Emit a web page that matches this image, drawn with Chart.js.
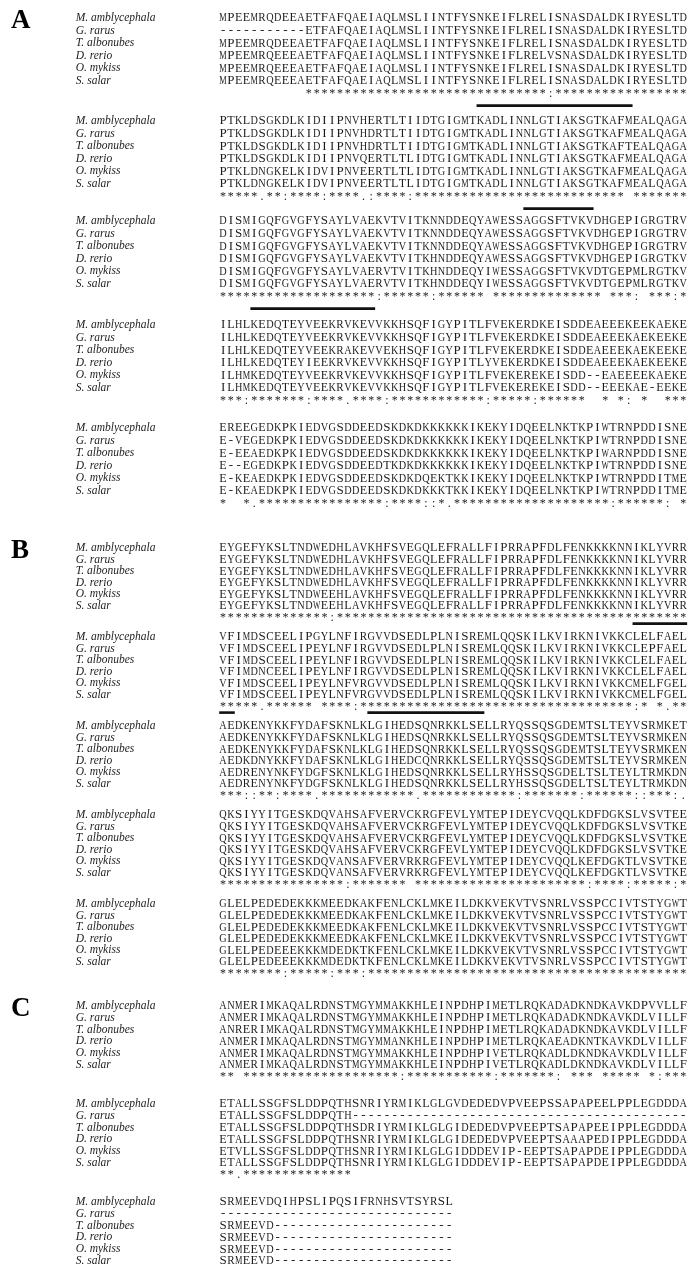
<!DOCTYPE html>
<html>
  <head>
    <meta charset="utf-8">
    <title>Alignment</title>
    <style>
      body { margin: 0; background: #fff; }
      canvas { display: block; }
    </style>
  </head>
  <body>
    <canvas id="grap" width="693" height="1272"></canvas>
    <script src="https://cdn.jsdelivr.net/npm/chart.js"></script>
    <script type="text/javascript">
      const species = ['M. amblycephala', 'G. rarus', 'T. albonubes', 'D. rerio', 'O. mykiss', 'S. salar'];

      const blocksA = [
        ['MPEEMRQDEEAETFAFQAEIAQLMSLIINTFYSNKEIFLRELISNASDALDKIRYESLTD',
         '-----------ETFAFQAEIAQLMSLIINTFYSNKEIFLRELISNASDALDKIRYESLTD',
         'MPEEMRQDEEAETFAFQAEIAQLMSLIINTFYSNKEIFLRELISNASDALDKIRYESLTD',
         'MPEEMRQEEEAETFAFQAEIAQLMSLIINTFYSNKEIFLRELVSNASDALDKIRYESLTD',
         'MPEEMRQEEEAETFAFQAEIAQLMSLIINTFYSNKEIFLRELISNASDALDKIRYESLTD',
         'MPEEMRQEEEAETFAFQAEIAQLMSLIINTFYSNKEIFLRELISNASDALDKIRYESLTD'],
        ['PTKLDSGKDLKIDIIPNVHERTLTIIDTGIGMTKADLINNLGTIAKSGTKAFMEALQAGA',
         'PTKLDSGKDLKIDIIPNVHDRTLTIIDTGIGMTKADLINNLGTIAKSGTKAFMEALQAGA',
         'PTKLDSGKDLKIDIIPNVHDRTLTIIDTGIGMTKADLINNLGTIAKSGTKAFTEALQAGA',
         'PTKLDSGKDLKIDIIPNVQERTLTLIDTGIGMTKADLINNLGTIAKSGTKAFMEALQAGA',
         'PTKLDNGKELKIDVIPNVEERTLTLIDTGIGMTKADLINNLGTIAKSGTKAFMEALQAGA',
         'PTKLDNGKELKIDVIPNVEERTLTLIDTGIGMTKADLINNLGTIAKSGTKAFMEALQAGA'],
        ['DISMIGQFGVGFYSAYLVAEKVTVITKNNDDEQYAWESSAGGSFTVKVDHGEPIGRGTRV',
         'DISMIGQFGVGFYSAYLVAEKVTVITKNNDDEQYAWESSAGGSFTVKVDHGEPIGRGTRV',
         'DISMIGQFGVGFYSAYLVAEKVTVITKNNDDEQYAWESSAGGSFTVKVDHGEPIGRGTRV',
         'DISMIGQFGVGFYSAYLVAEKVTVITKHNDDEQYAWESSAGGSFTVKVDHGEPIGRGTKV',
         'DISMIGQFGVGFYSAYLVAERVTVITKHNDDEQYIWESSAGGSFTVKVDTGEPMLRGTKV',
         'DISMIGQFGVGFYSAYLVAERVTVITKHNDDEQYIWESSAGGSFTVKVDTGEPMLRGTKV'],
        ['ILHLKEDQTEYVEEKRVKEVVKKHSQFIGYPITLFVEKERDKEISDDEAEEEKEEKAEKE',
         'ILHLKEDQTEYVEEKRVKEVVKKHSQFIGYPITLFVEKERDKEISDDEAEEEKAEKEEKE',
         'ILHLKEDQTEYVEEKRAKEVVEKHSQFIGYPITLFVEKERDKEISDDEAEEEKAEKEEKE',
         'ILHLKEDQTEYIEEKRVKEVVKKHSQFIGYPITLYVEKERDKEISDDEAEEEKAEKEEKE',
         'ILHMKEDQTEYVEEKRVKEVVKKHSQFIGYPITLFVEKEREKEISDD--EAEEEEKAEKE',
         'ILHMKEDQTEYVEEKRVKEVVKKHSQFIGYPITLFVEKEREKEISDD--EEEKAE-EEKE'],
        ['EREEGEDKPKIEDVGSDDEEDSKDKDKKKKKKIKEKYIDQEELNKTKPIWTRNPDDISNE',
         'E-VEGEDKPKIEDVGSDDEEDSKDKDKKKKKKIKEKYIDQEELNKTKPIWTRNPDDISNE',
         'E-EEAEDKPKIEDVGSDDEEDSKDKDKKKKKKIKEKYIDQEELNKTKPIWARNPDDISNE',
         'E--EGEDKPKIEDVGSDDEEDTKDKDKKKKKKIKEKYIDQEELNKTKPIWTRNPDDISNE',
         'E-KEAEDKPKIEDVGSDDEEDSKDKDQEKTKKIKEKYIDQEELNKTKPIWTRNPDDITME',
         'E-KEAEDKPKIEDVGSDDEEDSKDKDKKKTKKIKEKYIDQEELNKTKPIWTRNPDDITME']
      ];
      const consA = [
        '           *******************************:*****************',
        '*****.**:****:****.:****:*************************** *******',
        '********************:******:****** ************** ***: ***:*',
        '***:*******:****.****:************:*****:******  * *: *  ***',
        '*  *.****************:****::*.********************:******: *'
      ];

      const blocksB = [
        ['EYGEFYKSLTNDWEDHLAVKHFSVEGQLEFRALLFIPRRAPFDLFENKKKKNNIKLYVRR',
         'EYGEFYKSLTNDWEDHLAVKHFSVEGQLEFRALLFIPRRAPFDLFENKKKKNNIKLYVRR',
         'EYGEFYKSLTNDWEDHLAVKHFSVEGQLEFRALLFIPRRAPFDLFENKKKKNNIKLYVRR',
         'EYGEFYKSLTNDWEDHLAVKHFSVEGQLEFRALLFIPRRAPFDLFENKKKKNNIKLYVRR',
         'EYGEFYKSLTNDWEEHLAVKHFSVEGQLEFRALLFIPRRAPFDLFENKKKKNNIKLYVRR',
         'EYGEFYKSLTNDWEEHLAVKHFSVEGQLEFRALLFIPRRAPFDLFENKKKKNNIKLYVRR'],
        ['VFIMDSCEELIPGYLNFIRGVVDSEDLPLNISREMLQQSKILKVIRKNIVKKCLELFAEL',
         'VFIMDSCEELIPEYLNFIRGVVDSEDLPLNISREMLQQSKILKVIRKNIVKKCLEPFAEL',
         'VFIMDSCEELIPEYLNFIRGVVDSEDLPLNISREMLQQSKILKVIRKNIVKKCLELFAEL',
         'VFIMDNCEELIPEYLNFIRGVVDSEDLPLNISREMLQQSKILKVIRKNIVKKCLELFAEL',
         'VFIMDSCEELIPEYLNFVRGVVDSEDLPLNISREMLQQSKILKVIRKNIVKKCMELFGEL',
         'VFIMDSCEELIPEYLNFVRGVVDSEDLPLNISREMLQQSKILKVIRKNIVKKCMELFGEL'],
        ['AEDKENYKKFYDAFSKNLKLGIHEDSQNRKKLSELLRYQSSQSGDEMTSLTEYVSRMKET',
         'AEDKENYKKFYDAFSKNLKLGIHEDSQNRKKLSELLRYQSSQSGDEMTSLTEYVSRMKEN',
         'AEDKENYKKFYDAFSKNLKLGIHEDSQNRKKLSELLRYQSSQSGDEMTSLTEYVSRMKEN',
         'AEDKDNYKKFYDAFSKNLKLGIHEDCQNRKKLSELLRYQSSQSGDEMTSLTEYVSRMKEN',
         'AEDRENYNKFYDGFSKNLKLGIHEDSQNRKKLSELLRYHSSQSGDELTSLTEYLTRMKDN',
         'AEDRENYNKFYDGFSKNLKLGIHEDSQNRKKLSELLRYHSSQSGDELTSLTEYLTRMKDN'],
        ['QKSIYYITGESKDQVAHSAFVERVCKRGFEVLYMTEPIDEYCVQQLKDFDGKSLVSVTEE',
         'QKSIYYITGESKDQVAHSAFVERVCKRGFEVLYMTEPIDEYCVQQLKDFDGKSLVSVTKE',
         'QKSIYYITGESKDQVAHSAFVERVCKRGFEVLYMTEPIDEYCVQQLKDFDGKSLVSVTKE',
         'QKSIYYITGESKDQVAHSAFVERVCKRGFEVLYMTEPIDEYCVQQLKDFDGKSLVSVTKE',
         'QKSIYYITGESKDQVANSAFVERVRKRGFEVLYMTEPIDEYCVQQLKEFDGKTLVSVTKE',
         'QKSIYYITGESKDQVANSAFVERVRKRGFEVLYMTEPIDEYCVQQLKEFDGKTLVSVTKE'],
        ['GLELPEDEDEKKKMEEDKAKFENLCKLMKEILDKKVEKVTVSNRLVSSPCCIVTSTYGWT',
         'GLELPEDEDEKKKMEEDKAKFENLCKLMKEILDKKVEKVTVSNRLVSSPCCIVTSTYGWT',
         'GLELPEDEDEKKKMEEDKAKFENLCKLMKEILDKKVEKVTVSNRLVSSPCCIVTSTYGWT',
         'GLELPEDEDEKKKMEEDKAKFENLCKLMKEILDKKVEKVTVSNRLVSSPCCIVTSTYGWT',
         'GLELPEDEEEKKKMDEDKTKFENLCKLMKEILDKKVEKVTVSNRLVSSPCCIVTSTYGWT',
         'GLELPEDEEEKKKMDEDKTKFENLCKLMKEILDKKVEKVTVSNRLVSSPCCIVTSTYGWT']
      ];
      const consB = [
        '**************:*********************************************',
        '*****.****** ****:***********************************:* *.**',
        '***::**:****.************.************:*******:******::***:.',
        '****************:******* **********************:****:*****:*',
        '********:*****:***:*****************************************'
      ];

      const blocksC = [
        ['ANMERIMKAQALRDNSTMGYMMAKKHLEINPDHPIMETLRQKADADKNDKAVKDPVVLLF',
         'ANMERIMKAQALRDNSTMGYMMAKKHLEINPDHPIMETLRQKADADKNDKAVKDLVILLF',
         'ANRERIMKAQALRDNSTMGYMMAKKHLEINPDHPIMETLRQKADADKNDKAVKDLVILLF',
         'ANMERIMKAQALRDNSTMGYMMANKHLEINPDHPIMETLRQKAEADKNTKAVKDLVILLF',
         'ANMERIMKAQALRDNSTMGYMMAKKHLEINPDHPIVETLRQKADLDKNDKAVKDLVILLF',
         'ANMERIMKAQALRDNSTMGYMMAKKHLEINPDHPIVETLRQKADLDKNDKAVKDLVILLF'],
        ['ETALLSSGFSLDDPQTHSNRIYRMIKLGLGVDEDEDVPVEEPSSAPAPEELPPLEGDDDA',
         'ETALLSSGFSLDDPQTH-------------------------------------------',
         'ETALLSSGFSLDDPQTHSDRIYRMIKLGLGIDEDEDVPVEEPTSAPAPEEIPPLEGDDDA',
         'ETALLSSGFSLDDPQTHSNRIYRMIKLGLGIDEDEDVPVEEPTSAAAPEDIPPLEGDDDA',
         'ETVLLSSGFSLDDPQTHSNRIYRMIKLGLGIDDDEVIP-EEPTSAPAPDEIPPLEGDDDA',
         'ETALLSSGFSLDDPQTHSNRIYRMIKLGLGIDDDEVIP-EEPTSAPAPDEIPPLEGDDDA'],
        ['SRMEEVDQIHPSLIPQSIFRNHSVTSYRSL',
         '------------------------------',
         'SRMEEVD-----------------------',
         'SRMEEVD-----------------------',
         'SRMEEVD-----------------------',
         'SRMEEVD-----------------------']
      ];
      const consC = [
        '** ********************:***********:*******: *** ***** *:***',
        '**.**************',
        ''
      ];

      // underlines: [block, first column, last column]
      const barsA = [[0, 34, 53], [1, 40, 48], [2, 5, 20]];
      const barsB = [[0, 54, 60], [1, 1, 2], [1, 20, 34]];
      const barsC = [];

      const panels = [
        { letter: 'A', blocks: blocksA, cons: consA, bars: barsA, tops: [18, 121, 221, 325, 428], gap: 12.6, barGap: 12 },
        { letter: 'B', blocks: blocksB, cons: consB, bars: barsB, tops: [548, 637, 726, 815, 904], gap: 11.6, barGap: 6 },
        { letter: 'C', blocks: blocksC, cons: consC, bars: barsC, tops: [1006, 1104, 1202], gap: 11.8, barGap: 6 }
      ];

      const labelCol = -17.9;
      const letterCol = -26.2;

      let seqPts = [], consPts = [], labelPts = [], letterPts = [], barSets = [];
      panels.forEach(p => {
        letterPts.push({ x: letterCol, y: p.tops[0] + 3, t: p.letter });
        p.blocks.forEach((rows, b) => {
          let top = p.tops[b];
          rows.forEach((s, r) => {
            labelPts.push({ x: labelCol, y: top + r * p.gap, t: species[r] });
            for (let c = 0; c < s.length; c++) {
              seqPts.push({ x: c + 1, y: top + r * p.gap, t: s[c] });
            }
          });
          let cs = p.cons[b];
          for (let c = 0; c < cs.length; c++) {
            if (cs[c] != ' ') consPts.push({ x: c + 1, y: top + 6 * p.gap, t: cs[c] });
          }
        });
        p.bars.forEach(bar => {
          let y = p.tops[bar[0]] + 6 * p.gap + p.barGap;
          barSets.push({
            data: [{ x: bar[1] - 0.5, y: y }, { x: bar[2] + 0.5, y: y }],
            showLine: true, borderColor: '#111', borderWidth: 2.6, pointRadius: 0
          });
        });
      });

      const textPlugin = {
        id: 'seqText',
        afterDatasetsDraw(chart) {
          const ctx = chart.ctx;
          chart.data.datasets.forEach((ds, i) => {
            if (!ds.textFont) return;
            const meta = chart.getDatasetMeta(i);
            ctx.save();
            ctx.font = ds.textFont;
            ctx.fillStyle = ds.textColor;
            ctx.textAlign = ds.cell ? 'center' : 'left';
            ctx.textBaseline = 'middle';
            meta.data.forEach((pt, j) => {
              const t = ds.data[j].t;
              if (ds.cell) {
                let w = ctx.measureText(t).width;
                let sx = Math.min(1, ds.cell / w);
                ctx.save();
                ctx.translate(pt.x, pt.y);
                ctx.scale(sx, 1);
                ctx.fillText(t, 0, 0);
                ctx.restore();
              } else {
                ctx.fillText(t, pt.x, pt.y);
              }
            });
            ctx.restore();
          });
        }
      };

      const textSet = (pts, font, color, cell) => ({
        data: pts, pointRadius: 0, showLine: false, textFont: font, textColor: color, cell: cell
      });

      new Chart(document.querySelector('#grap'), {
        type: 'scatter',
        data: {
          datasets: [
            textSet(seqPts, '13px "Liberation Serif"', '#1c1c1c', 7.4),
            textSet(consPts, '12px "Liberation Serif"', '#1c1c1c', 7.3),
            textSet(labelPts, 'italic 11.5px "Liberation Serif"', '#1c1c1c', 0),
            textSet(letterPts, 'bold 27px "Liberation Serif"', '#000', 0)
          ].concat(barSets)
        },
        options: {
          responsive: false,
          animation: false,
          events: [],
          layout: { padding: 0 },
          plugins: { legend: { display: false }, tooltip: { enabled: false } },
          scales: {
            x: { type: 'linear', display: false, min: -27.6, max: 61.25 },
            y: { type: 'linear', display: false, min: 0, max: 1272, reverse: true }
          }
        },
        plugins: [textPlugin]
      });
    </script>
  </body>
</html>
